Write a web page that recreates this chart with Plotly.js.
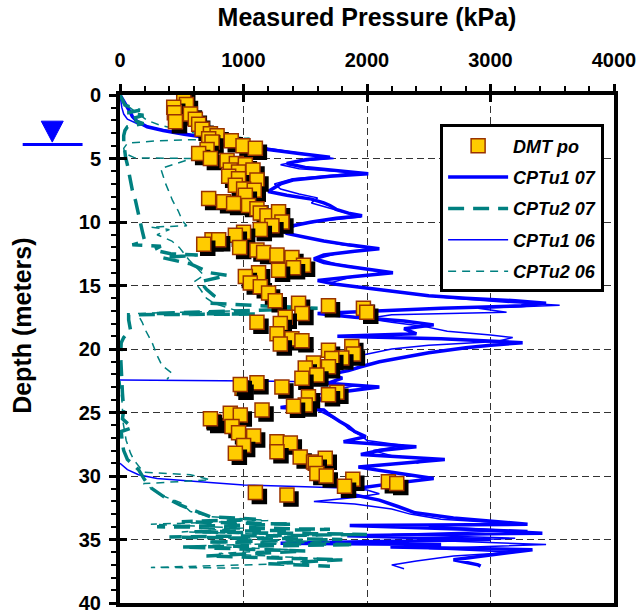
<!DOCTYPE html>
<html>
<head>
<meta charset="utf-8">
<script src="https://cdn.plot.ly/plotly-3.0.1.min.js"></script>
<style>html,body{margin:0;padding:0;background:#fff;}#chart{width:638px;height:614px;}</style>
</head>
<body>
<div id="chart"></div>
<script>
// ---- Data ----
var seriesNames = ["DMT po", "CPTu1 07", "CPTu2 07", "CPTu1 06", "CPTu2 06"];

// DMT po: pressure (kPa) and depth (m)
var dmtPressure = [516,538,435,440,449,570,610,637,665,732,786,718,745,901,996,1096,705,637,732,867,942,1015,893,960,1077,880,960,1109,934,1001,1087,1015,718,839,920,1041,1109,1136,1190,1284,1311,1230,1136,1001,934,745,799,678,969,1109,1163,1271,1392,1486,1405,1284,1122,1015,1055,1136,1203,1257,1446,1688,1971,1998,1473,1338,1109,1298,1271,1392,1473,1298,1688,1877,1890,1796,1715,1567,1688,1500,1594,1473,1311,1109,988,974,1756,1688,1526,1500,1405,1150,759,732,893,974,907,960,1082,1001,934,1271,1379,1271,1459,1567,1662,1581,1594,1670,1885,1818,2173,2241,1096,1352];
var dmtDepth = [0.04,0.75,0.96,1.4,2.1,1.5,1.9,2.3,2.7,3.05,3.2,3.45,3.7,3.6,4.0,4.2,4.3,4.6,5.0,5.15,5.4,5.5,5.9,6.07,5.9,6.4,6.6,6.7,7.1,7.4,7.5,7.9,8.15,8.4,8.55,8.7,8.95,9.3,9.5,9.2,10.0,10.3,10.6,10.8,11.05,11.4,11.4,11.75,12.0,12.2,12.4,12.6,12.8,13.4,13.6,13.8,14.0,14.3,14.8,15.1,15.6,16.2,16.4,16.6,16.8,17.1,17.2,17.5,17.9,18.0,18.8,19.2,19.35,19.6,20.1,19.8,20.4,20.7,20.75,21.1,21.4,21.5,22.05,22.3,23.0,22.65,23.1,22.8,23.4,23.6,23.75,24.4,24.5,24.8,25.7,25.5,25.05,25.2,26.1,26.6,26.85,27.6,28.2,27.3,27.4,28.1,28.5,28.9,28.6,29.0,29.8,30.0,30.25,30.8,30.45,30.6,31.3,31.5];

// CPTu1 07 (thick blue)
var cptu1_07_depth = [0,0.3,0.6,1.0,1.3,1.7,2.1,2.5,2.8,3.1,3.4,3.7,4.0,4.3,4.6,4.9,5.1,5.4,5.7,6.0,6.2,6.4,6.7,7.0,7.3,7.6,7.9,8.2,8.5,8.7,9.0,9.3,9.5,9.7,10.0,10.3,10.6,10.9,11.2,11.5,11.8,12.1,12.3,12.6,12.9,13.2,13.5,13.8,14.0,14.3,14.6,14.9,15.2,15.5,15.8,16.0,16.2,16.4,16.6,16.8,17.0,17.2,17.5,17.8,18.1,18.4,18.8,19.0,19.2,19.5,19.7,19.9,20.3,20.7,21.0,21.4,21.7,22.0,22.3,22.7,23.0,23.3,23.7,24.2,24.6,24.8,25.2,25.7,26.1,26.5,26.9,27.3,27.7,28.0,28.3,28.7,29.0,29.3,29.7,30.2,30.6,31.0,31.4,31.9,32.4,32.9,33.3,33.8,33.9,34.2,34.5,34.7,35.0,35.3,35.4,35.6,35.8,36.2,36.6,37.0,37.1];
var cptu1_07_kPa = [0,20,40,60,80,100,140,220,350,520,760,950,1100,1200,1450,1700,1500,1350,1500,1800,2010,1700,1400,1300,1250,1200,1350,1550,1650,1700,1750,1850,1960,1750,1550,1400,1300,1350,1500,1650,1850,2100,1900,1650,1570,1650,1850,2100,2210,1900,1600,1750,2000,2250,2500,2800,3200,3450,3250,2600,2000,1600,1900,2300,2540,2300,2400,1760,2600,3260,3000,2800,2500,2250,2100,1950,1850,1700,1800,1680,2100,1850,1650,1600,1300,1650,1700,1780,1850,1900,1990,1810,2400,2100,1950,2630,2300,1930,2200,2540,2200,1900,1850,2100,2250,2390,2700,3300,1860,2800,3420,1840,3000,1300,2600,2190,3340,3000,2700,2900,2920];

// CPTu2 07 (thick teal dashed)
var cptu2_07_depth = [0,0.4,0.8,1.2,1.4,1.6,1.9,2.25,2.5,2.8,3.2,3.7,4.2,4.9,5.5,6.5,7.5,8.3,9.5,10.7,11.5,11.8,11.9,12.2,12.5,12.6,12.8,13.3,14.0,14.2,14.7,15.3,15.8,16.4,16.8,17.0,17.2,17.25,17.3,17.7,18.5,19.1,19.5,20.5,21.5,22.5,23.5,24.8,25.5,26.2,26.5,27.5,28.0,28.7,29.5,30.3,30.9,31.6,32.3,33.2,33.4,33.6,33.8,34.0,34.2,34.4,34.6,34.8,35.0,35.2,35.4,35.6,35.9,36.3,36.6,36.9,37.1];
var cptu2_07_kPa = [0,20,40,160,60,190,80,190,60,40,30,30,35,45,60,80,100,125,150,180,200,100,330,270,410,630,340,570,730,870,650,700,760,720,1600,950,270,1100,70,70,85,30,10,5,10,10,20,30,20,100,10,20,30,60,150,200,245,350,490,730,1100,500,1400,300,1700,600,2000,400,1800,700,1900,500,1500,700,1800,1200,1700];

// CPTu1 06 (thin blue) - three pushes separated by null
var cptu1_06_depth = [0,0.5,1.0,1.5,1.9,2.3,2.7,3.0,3.3,3.6,3.9,4.2,4.5,4.8,5.0,5.2,5.5,5.8,6.1,6.3,6.6,7.0,7.4,7.8,8.1,8.5,8.9,9.2,9.6,9.9,10.2,10.6,11.0,11.4,11.8,12.1,12.5,12.9,13.3,13.7,14.0,14.4,14.8,15.1,15.4,15.7,16.0,16.3,16.55,16.8,17.1,17.3,17.6,17.9,18.2,18.6,18.9,19.1,19.4,19.7,20.0,20.4,20.8,21.2,21.6,22.0,22.4,
  null,22.45,22.5,22.55,22.65,22.9,23.2,23.6,24.0,24.4,24.8,25.3,25.8,26.3,26.8,27.2,27.6,28.0,28.4,28.7,29.0,
  null,29.0,29.5,29.9,30.2,30.5,30.7,30.85,30.95,31.1,31.4,31.7,32.0,32.2,32.6,33.0,33.4,33.7,34.0,34.3,34.6,34.9,35.1,35.4,35.7,36.0,36.3,36.7,37.0,37.3];
var cptu1_06_kPa = [0,5,15,30,60,150,320,520,700,880,1050,1200,1400,1600,1730,1450,1300,1450,1900,1750,1400,1250,1300,1450,1600,1550,1700,1800,1950,1650,1450,1350,1400,1600,1800,2050,1750,1600,1750,2000,2150,1850,1700,1900,2150,2400,2700,3100,3560,2900,3130,2200,2000,2200,2450,2650,3000,3180,3050,2500,2200,2000,1800,1700,1750,1650,1550,
  null,0,700,1400,1600,1900,1750,1600,1550,1500,1600,1700,1800,1850,1950,2000,2300,2050,2200,2500,2400,
  null,0,60,150,300,700,1000,1500,1810,2000,2100,1900,1570,1900,2200,2350,2600,3100,2500,3300,2200,3200,2600,3450,2500,3200,2700,2400,2200,2300];

// CPTu2 06 (thin teal dashed) - two pushes separated by null
var cptu2_06_depth = [0,0.5,1.0,1.5,2.0,2.4,2.8,3.1,3.4,3.5,3.6,3.8,4.2,4.6,4.95,5.0,5.3,5.8,6.4,7.0,7.7,8.3,9.1,9.9,10.3,10.4,10.6,11.0,11.5,12.0,12.5,13.0,13.6,14.2,14.7,15.3,16.0,16.4,17.0,17.1,17.2,17.9,18.5,19.5,20.5,21.3,21.9,22.4,
  null,22.5,23.5,24.5,25.5,26.1,26.6,27.2,28.2,28.7,29.2,29.7,29.8,29.9,30.3,30.6,31.1,31.6,32.1,32.8,33.2,33.5,33.8,34.1,34.4,34.7,34.9,35.2,35.5,35.8,36.1,36.5,36.9,37.2,37.25];
var cptu2_06_kPa = [0,30,80,150,220,330,500,650,1050,700,300,60,30,40,120,580,480,330,350,370,400,425,470,505,540,250,400,300,420,480,520,560,620,680,600,650,700,760,950,400,140,180,205,260,300,340,420,380,
  null,0,10,20,20,30,40,50,85,110,150,190,380,570,730,190,275,355,490,570,730,1200,250,1000,500,1600,800,1700,600,1400,800,1600,1400,250,1000];

var xTicks = [0, 1000, 2000, 3000, 4000];
var yTicks = [0, 5, 10, 15, 20, 25, 30, 35, 40];

// ---- Styling ----
var FONT = "Arial, 'Liberation Sans', sans-serif";
var BLUE = "#0000FF", TEAL = "#008080";

var traces = [
  {name: seriesNames[1], x: cptu1_07_kPa, y: cptu1_07_depth, mode: "lines", connectgaps: false,
   line: {color: BLUE, width: 3.5}, legendgroup: "g2", legendrank: 2},
  {name: seriesNames[3], x: cptu1_06_kPa, y: cptu1_06_depth, mode: "lines", connectgaps: false,
   line: {color: BLUE, width: 1.5}, legendgroup: "g4", legendrank: 4},
  {name: seriesNames[2], x: cptu2_07_kPa, y: cptu2_07_depth, mode: "lines", connectgaps: false,
   line: {color: TEAL, width: 3.5, dash: "16px,9px"}, legendgroup: "g3", legendrank: 3},
  {name: seriesNames[4], x: cptu2_06_kPa, y: cptu2_06_depth, mode: "lines", connectgaps: false,
   line: {color: TEAL, width: 1.5, dash: "8px,6px"}, legendgroup: "g5", legendrank: 5},
  {name: seriesNames[0], x: dmtPressure, y: dmtDepth, mode: "markers",
   marker: {symbol: "square", size: 14, color: "#FFCC00", line: {color: "#993300", width: 1.5}},
   legendgroup: "g1", legendrank: 1},
  {x: [], y: [], xaxis: "x2", yaxis: "y2", showlegend: false, hoverinfo: "skip", type: "scatter"}
];

var axisCommon = {
  showline: true, linecolor: "black", linewidth: 4, mirror: true,
  zeroline: false, showgrid: true, gridcolor: "#333", gridwidth: 1, griddash: "7px,4px",
  ticks: "outside", ticklen: 7, tickwidth: 3, tickcolor: "black",
  tickfont: {family: FONT, size: 20, color: "black", weight: "bold"}
};

var layout = {
  width: 638, height: 614,
  margin: {l: 120, r: 24, t: 95, b: 11},
  paper_bgcolor: "white", plot_bgcolor: "white",
  showlegend: true,
  xaxis: Object.assign({}, axisCommon, {
    side: "top", range: [0, 4000], tickmode: "array", tickvals: xTicks,
    ticklabelstandoff: 9,
    minor: {dtick: 200, tick0: 0, ticks: "outside", ticklen: 5, tickwidth: 2, tickcolor: "black", showgrid: false},
    title: {text: "Measured Pressure (kPa)", font: {family: FONT, size: 25, color: "black", weight: "bold"}, standoff: 16}
  }),
  yaxis: Object.assign({}, axisCommon, {
    range: [40, 0], tickmode: "array", tickvals: yTicks,
    ticklabelstandoff: 4,
    minor: {dtick: 1, tick0: 0, ticks: "outside", ticklen: 5, tickwidth: 2, tickcolor: "black", showgrid: false}
  }),
  xaxis2: {overlaying: "x", side: "top", anchor: "y", range: [0, 4000], tickmode: "array", tickvals: xTicks,
    ticks: "inside", ticklen: 7, tickwidth: 3, tickcolor: "black", showticklabels: false,
    showgrid: false, showline: false, zeroline: false},
  yaxis2: {overlaying: "y", side: "left", anchor: "x", range: [40, 0], tickmode: "array", tickvals: yTicks,
    ticks: "inside", ticklen: 7, tickwidth: 3, tickcolor: "black", showticklabels: false,
    showgrid: false, showline: false, zeroline: false},
  legend: {
    x: 0.648, y: 0.942, xanchor: "left", yanchor: "top",
    bgcolor: "white", bordercolor: "black", borderwidth: 3,
    font: {family: FONT, size: 18, color: "black", weight: "bold", style: "italic"},
    traceorder: "grouped", tracegroupgap: 5, itemwidth: 60
  },
  annotations: [{
    text: "Depth (meters)", xref: "paper", yref: "paper", x: -0.199, y: 0.545,
    textangle: -90, showarrow: false, xanchor: "center", yanchor: "middle",
    font: {family: FONT, size: 25, color: "black", weight: "bold"}
  }],
  shapes: [
    {type: "path", xref: "paper", yref: "y", path: "M -0.1594 2.06 L -0.1149 2.06 L -0.1371 3.71 Z",
     fillcolor: BLUE, line: {color: BLUE, width: 1}},
    {type: "line", xref: "paper", yref: "y", x0: -0.197, x1: -0.0758, y0: 3.9, y1: 3.9,
     line: {color: BLUE, width: 3}}
  ]
};

Plotly.newPlot("chart", traces, layout, {staticPlot: true, displayModeBar: false}).then(function (gd) {
  // drop shadow behind each DMT square (as in the reference)
  var groups = gd.querySelectorAll(".cartesianlayer .scatterlayer .trace");
  groups.forEach(function (g) {
    var pts = g.querySelectorAll(".points path");
    pts.forEach(function (p) { p.style.filter = "drop-shadow(4px 4px 0px #000)"; });
  });
});
</script>
</body>
</html>
